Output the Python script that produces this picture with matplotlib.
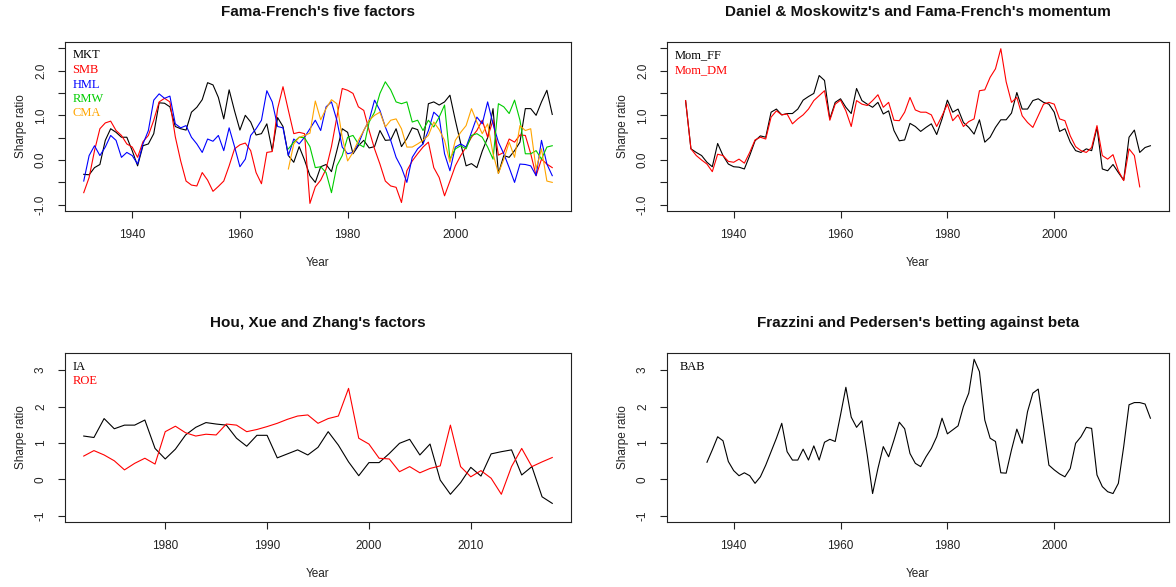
import numpy as np
import matplotlib.pyplot as plt

plt.rcParams['font.family'] = ['Liberation Sans', 'DejaVu Sans']

# Years covered by each data set
years_ff = np.arange(1931, 2019)      # MKT, SMB, HML, Mom_FF
years_ff5 = np.arange(1969, 2019)     # RMW, CMA
years_dm = np.arange(1931, 2017)      # Mom_DM
years_hxz = np.arange(1972, 2019)     # IA, ROE
years_bab = np.arange(1935, 2019)     # BAB

# Fama-French five factors (annual Sharpe ratios)
mkt = [-0.32, -0.33, -0.17, -0.10, 0.44, 0.70, 0.62, 0.51, 0.51, 0.21,
       -0.13, 0.32, 0.36, 0.59, 1.28, 1.27, 1.19, 0.75, 0.70, 0.67,
       1.07, 1.18, 1.35, 1.73, 1.68, 1.40, 0.92, 1.57, 1.10, 0.67,
       1.00, 0.85, 0.56, 0.59, 0.81, 0.21, 0.95, 0.75, 0.10, -0.05,
       0.30, 0.00, -0.35, -0.50, -0.15, -0.10, -0.26, 0.21, 0.70, 0.62,
       0.14, 0.32, 0.44, 0.27, 0.30, 0.66, 0.44, 0.45, 0.70, 0.30,
       0.48, 0.72, 0.68, 0.36, 1.26, 1.30, 1.23, 1.30, 1.45, 0.89,
       0.37, -0.13, -0.08, -0.17, 0.20, 0.50, 1.15, -0.30, 0.10, 0.06,
       0.21, 0.40, 1.15, 1.15, 1.00, 1.30, 1.56, 1.02]
smb = [-0.73, -0.39, 0.21, 0.70, 0.83, 0.87, 0.66, 0.55, 0.36, 0.29,
       0.06, 0.41, 0.55, 0.89, 1.30, 1.38, 1.30, 0.52, -0.02, -0.47,
       -0.56, -0.58, -0.28, -0.45, -0.70, -0.59, -0.47, -0.13, 0.25, 0.34,
       0.38, 0.21, -0.28, -0.53, 0.17, 0.19, 1.15, 1.64, 1.11, 0.59,
       0.62, 0.59, -0.97, -0.60, -0.45, -0.20, 0.30, 0.96, 1.60, 1.56,
       1.49, 1.19, 1.11, 0.66, 0.25, -0.09, -0.47, -0.58, -0.61, -0.95,
       -0.24, -0.02, 0.14, 0.29, 0.40, -0.17, -0.39, -0.80, -0.47, -0.13,
       0.10, 0.29, 0.51, 0.66, 0.89, 0.51, 0.89, 0.11, 0.17, 0.47,
       0.40, 0.56, 0.55, 0.14, -0.35, 0.02, -0.09, -0.17]
hml = [-0.47, 0.10, 0.32, 0.10, 0.29, 0.55, 0.44, 0.06, 0.17, 0.10,
       -0.09, 0.36, 0.66, 1.34, 1.48, 1.38, 1.43, 0.81, 0.72, 0.77,
       0.51, 0.36, 0.17, 0.47, 0.42, 0.55, 0.21, 0.72, 0.30, -0.15,
       0.02, 0.55, 0.70, 0.89, 1.55, 1.30, 0.75, 0.72, 0.10, 0.47,
       0.36, 0.51, 0.70, 0.89, 0.66, 1.19, 1.30, 0.89, 0.29, 0.14,
       0.17, 0.36, 0.66, 0.89, 1.34, 1.11, 0.74, 0.44, 0.06, -0.17,
       -0.50, 0.06, 0.25, 0.36, 0.66, 1.07, 0.96, 0.14, -0.24, 0.29,
       0.36, 0.29, 0.62, 0.96, 0.81, 1.30, 0.81, 0.40, 0.14, -0.17,
       -0.50, -0.09, -0.10, -0.13, -0.35, 0.44, -0.09, -0.35]
rmw = [0.25, 0.40, 0.51, 0.50, 0.30, -0.17, -0.15, -0.28, -0.73, -0.13,
       0.10, 0.51, 0.55, 0.36, 0.29, 0.85, 1.07, 1.49, 1.75, 1.57,
       1.30, 1.26, 1.30, 0.85, 0.89, 0.66, 0.89, 0.74, 0.96, 1.23,
       0.02, 0.25, 0.32, 0.25, 0.55, 0.59, 0.51, 0.29, 0.02, 1.26,
       1.19, 1.04, 1.34, 0.89, 0.14, 0.14, 0.21, 0.02, 0.29, 0.32]
cma = [-0.20, 0.36, 0.51, 0.55, 0.60, 1.32, 0.90, 1.15, 1.35, 1.26,
       0.51, -0.02, 0.17, 0.44, 0.66, 0.89, 1.00, 1.07, 0.74, 0.89,
       0.92, 0.70, 0.29, 0.29, 0.36, 0.44, 0.55, 0.85, 0.68, 0.44,
       -0.05, 0.44, 0.62, 0.77, 1.15, 0.85, 0.59, 0.81, 0.14, -0.30,
       0.02, 0.40, 0.06, 0.77, 0.66, 0.70, -0.20, 0.25, -0.47, -0.50]

# Momentum
mom_ff = [1.33, 0.25, 0.17, 0.10, -0.05, -0.15, 0.37, 0.10, -0.09, -0.15,
          -0.16, -0.20, 0.10, 0.43, 0.54, 0.51, 1.07, 1.14, 1.01, 1.04,
          1.04, 1.14, 1.34, 1.42, 1.49, 1.89, 1.78, 0.92, 1.29, 1.37,
          1.18, 1.04, 1.60, 1.33, 1.25, 1.18, 1.29, 1.03, 1.10, 0.66,
          0.43, 0.45, 0.82, 0.75, 0.64, 0.73, 0.81, 0.57, 0.92, 1.34,
          1.07, 1.14, 0.84, 0.73, 0.58, 0.90, 0.40, 0.51, 0.73, 0.90,
          0.90, 1.05, 1.51, 1.14, 1.14, 1.33, 1.37, 1.29, 1.25, 1.07,
          0.64, 0.70, 0.40, 0.21, 0.17, 0.25, 0.21, 0.73, -0.20, -0.24,
          -0.10, -0.28, -0.45, 0.51, 0.67, 0.17, 0.28, 0.32]
mom_dm = [1.33, 0.25, 0.10, 0.00, -0.09, -0.26, 0.13, 0.10, -0.03, -0.05,
          0.02, -0.07, 0.17, 0.45, 0.51, 0.47, 0.96, 1.10, 1.01, 1.03,
          0.81, 0.92, 1.01, 1.14, 1.33, 1.44, 1.55, 0.89, 1.25, 1.34,
          1.10, 0.75, 1.33, 1.25, 1.22, 1.33, 1.46, 1.18, 1.29, 0.89,
          0.88, 1.07, 1.40, 1.12, 1.07, 1.07, 1.01, 0.75, 0.99, 1.25,
          0.88, 1.01, 0.75, 0.86, 0.92, 1.55, 1.57, 1.85, 2.04, 2.49,
          1.75, 1.29, 1.40, 0.99, 0.84, 0.73, 0.99, 1.25, 1.29, 1.25,
          0.92, 0.88, 0.54, 0.30, 0.21, 0.17, 0.28, 0.77, 0.10, 0.02,
          0.12, -0.24, -0.46, 0.25, 0.10, -0.60]

# Hou, Xue and Zhang
ia = [1.19, 1.15, 1.67, 1.39, 1.49, 1.49, 1.63, 0.85,
      0.56, 0.83, 1.22, 1.43, 1.56, 1.52, 1.49, 1.13, 0.91, 1.21,
      1.21, 0.59, 0.70, 0.81, 0.67, 0.88, 1.31, 0.94, 0.48, 0.10,
      0.46, 0.46, 0.71, 0.99, 1.10, 0.67, 0.97, -0.02, -0.41, -0.09,
      0.33, 0.09, 0.70, 0.76, 0.81, 0.12, 0.35, -0.48, -0.66]
roe = [0.64, 0.79, 0.67, 0.51, 0.26, 0.44, 0.58, 0.42,
       1.31, 1.46, 1.28, 1.19, 1.24, 1.22, 1.52, 1.49, 1.31, 1.37,
       1.45, 1.54, 1.65, 1.74, 1.77, 1.54, 1.67, 1.74, 2.50, 1.13,
       0.97, 0.58, 0.56, 0.21, 0.35, 0.18, 0.30, 0.37, 1.49, 0.35,
       0.07, 0.24, 0.03, -0.41, 0.35, 0.85, 0.35, 0.48, 0.60]

# Betting against beta
bab = [0.47, 0.81, 1.17, 1.06, 0.49,
       0.24, 0.10, 0.18, 0.10, -0.11, 0.07, 0.39, 0.76, 1.13, 1.54,
       0.76, 0.53, 0.53, 0.83, 0.53, 0.92, 0.53, 1.02, 1.10, 1.04,
       1.77, 2.53, 1.71, 1.43, 1.61, 0.67, -0.39, 0.30, 0.90, 0.62,
       1.08, 1.57, 1.39, 0.71, 0.44, 0.35, 0.62, 0.85, 1.17, 1.68,
       1.25, 1.36, 1.47, 2.00, 2.37, 3.30, 2.96, 1.63, 1.13, 1.04,
       0.18, 0.17, 0.81, 1.38, 0.99, 1.86, 2.37, 2.48, 1.45, 0.39,
       0.26, 0.15, 0.07, 0.30, 0.99, 1.17, 1.43, 1.40, 0.12, -0.20,
       -0.34, -0.39, -0.11, 0.90, 2.05, 2.11, 2.11, 2.07, 1.68]

W, H = 1176, 587
LW = 0.8


def r_range(lo, hi):
    # R style 4% axis extension
    pad = 0.04 * (hi - lo)
    return lo - pad, hi + pad


def make_axes(fig, left, top, right, bottom):
    return fig.add_axes([left / W, 1 - bottom / H, (right - left) / W, (bottom - top) / H])


def style_axes(ax, title, xlim, ylim, xticks, yticks, ylabels, legend_dx=0.0):
    ax.set_xlim(*r_range(*xlim))
    ax.set_ylim(*r_range(*ylim))
    ax.set_xticks(xticks)
    ax.set_yticks(yticks, ylabels, rotation=90, va='center')
    ax.tick_params(direction='out', length=5, width=0.8, colors='#222222',
                   labelsize=8.5, pad=8)
    for sp in ax.spines.values():
        sp.set_linewidth(0.8)
        sp.set_color('#222222')
    ax.set_xlabel('Year', fontsize=8.5, color='#222222')
    ax.set_ylabel('Sharpe ratio', fontsize=8.5, color='#222222')
    ax.xaxis.set_label_coords(0.5, -0.27)
    ax.yaxis.set_label_coords(-0.075, 0.5)
    ax.text(0.5, 1.175, title, transform=ax.transAxes, ha='center', va='center',
            fontsize=11, fontweight='bold', color='#111111')
    ax.legend(handlelength=0, handletextpad=0, labelcolor='linecolor', frameon=False,
              loc='upper left', bbox_to_anchor=(legend_dx, 1), borderaxespad=0.2,
              labelspacing=0.2, prop={'family': 'Liberation Serif', 'size': 9})


fig = plt.figure(figsize=(W / 100, H / 100), dpi=100)

top_yticks = [-1.0, -0.5, 0.0, 0.5, 1.0, 1.5, 2.0, 2.5]
top_ylabels = ['-1.0', '', '0.0', '', '1.0', '', '2.0', '']
bot_yticks = [-1, 0, 1, 2, 3]
bot_ylabels = ['-1', '0', '1', '2', '3']

# Fama-French five factors
ax1 = make_axes(fig, 65, 42, 571, 211)
ax1.plot(years_ff, mkt, color='black', lw=LW, label='MKT')
ax1.plot(years_ff, smb, color='red', lw=LW, label='SMB')
ax1.plot(years_ff, hml, color='blue', lw=LW, label='HML')
ax1.plot(years_ff5, rmw, color='#00CD00', lw=LW, label='RMW')
ax1.plot(years_ff5, cma, color='orange', lw=LW, label='CMA')
style_axes(ax1, "Fama-French's five factors", (1931, 2018), (-1, 2.5),
           [1940, 1960, 1980, 2000], top_yticks, top_ylabels)

# Momentum
ax2 = make_axes(fig, 667, 42, 1169, 211)
ax2.plot(years_ff, mom_ff, color='black', lw=LW, label='Mom_FF')
ax2.plot(years_dm, mom_dm, color='red', lw=LW, label='Mom_DM')
style_axes(ax2, "Daniel & Moskowitz's and Fama-French's momentum", (1931, 2018), (-1, 2.5),
           [1940, 1960, 1980, 2000], top_yticks, top_ylabels)

# Hou, Xue and Zhang
ax3 = make_axes(fig, 65, 353, 571, 522)
ax3.plot(years_hxz, ia, color='black', lw=LW, label='IA')
ax3.plot(years_hxz, roe, color='red', lw=LW, label='ROE')
style_axes(ax3, "Hou, Xue and Zhang's factors", (1972, 2018), (-1, 3.3),
           [1980, 1990, 2000, 2010], bot_yticks, bot_ylabels)

# Betting against beta
ax4 = make_axes(fig, 667, 353, 1169, 522)
ax4.plot(years_bab, bab, color='black', lw=LW, label='BAB')
style_axes(ax4, "Frazzini and Pedersen's betting against beta", (1931, 2018), (-1, 3.3),
           [1940, 1960, 1980, 2000], bot_yticks, bot_ylabels, legend_dx=0.01)

plt.savefig('out.png', dpi=100)
plt.close()
